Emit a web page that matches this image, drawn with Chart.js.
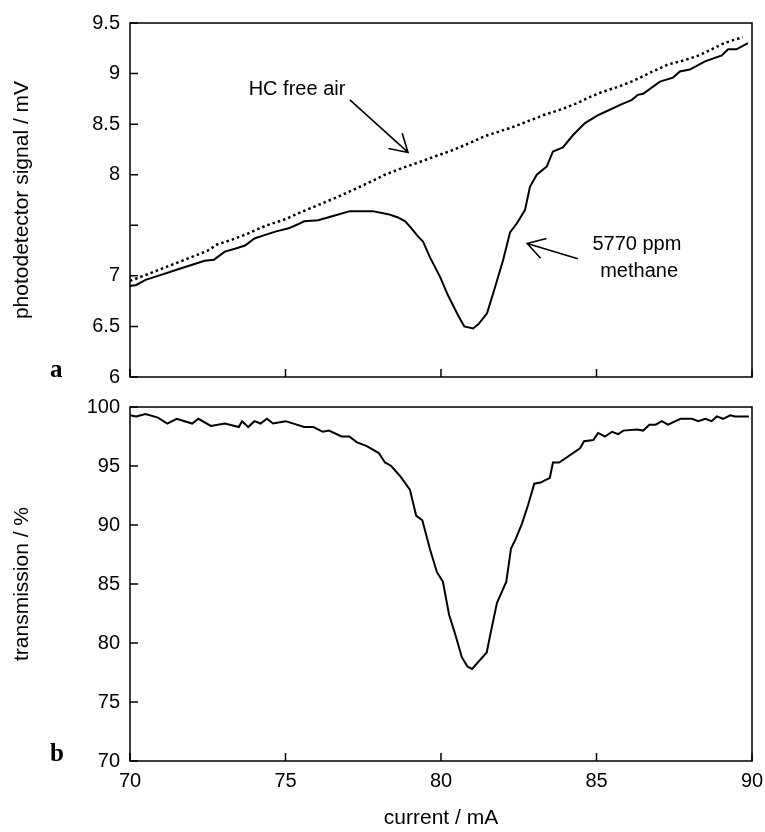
<!DOCTYPE html>
<html lang="en">
<head>
    <meta charset="UTF-8">
    <title>Methane absorption - photodetector signal and transmission</title>
    <script src="https://cdn.jsdelivr.net/npm/chart.js"></script>
    <style>
        body { margin: 0; background: #fff; }
        #wrap { position: relative; width: 765px; height: 832px; }
        canvas { position: absolute; left: 0; }
        #topChart { top: 0; }
        #bottomChart { top: 392px; }
    </style>
</head>
<body>
<div id="wrap">
    <canvas id="topChart" width="765" height="392"></canvas>
    <canvas id="bottomChart" width="765" height="440"></canvas>
</div>
<script>
    // Panel a: HC free air (dotted)
    var airCurrent = [70.0, 70.6, 71.1, 71.6, 72.1, 72.5, 72.8, 73.3, 73.8, 74.4, 75.0, 75.5, 76.05, 76.6, 77.1, 77.6,
        78.2, 78.7, 79.26, 79.8, 80.35, 80.9, 81.4, 81.9, 82.3, 82.8, 83.3, 83.9, 84.4, 84.8, 85.2, 85.7, 86.2, 86.8,
        87.3, 87.8, 88.3, 88.7, 89.1, 89.7];
    var airSignal = [6.95, 7.02, 7.08, 7.14, 7.20, 7.25, 7.31, 7.36, 7.42, 7.50, 7.56, 7.63, 7.70, 7.77, 7.84, 7.91,
        8.00, 8.06, 8.12, 8.18, 8.24, 8.31, 8.38, 8.43, 8.47, 8.53, 8.59, 8.65, 8.71, 8.77, 8.82, 8.87, 8.93, 9.02,
        9.09, 9.13, 9.18, 9.24, 9.30, 9.36];

    // Panel a: 5770 ppm methane (solid)
    var gasCurrent = [70.0, 70.2, 70.5, 71.0, 71.5, 72.0, 72.4, 72.7, 73.05, 73.4, 73.7, 74.0, 74.3, 74.7, 75.1, 75.4,
        75.6, 76.05, 76.5, 77.07, 77.8, 78.3, 78.6, 78.85, 79.05, 79.26, 79.42, 79.65, 79.97, 80.22, 80.45, 80.6,
        80.75, 81.03, 81.2, 81.48, 81.74, 82.0, 82.22, 82.44, 82.7, 82.86, 83.08, 83.4, 83.6, 83.92, 84.24, 84.63,
        85.05, 85.27, 85.76, 86.14, 86.33, 86.5, 87.04, 87.46, 87.68, 88.0, 88.49, 89.03, 89.23, 89.5, 89.87];
    var gasSignal = [6.90, 6.91, 6.96, 7.01, 7.06, 7.11, 7.15, 7.16, 7.24, 7.27, 7.30, 7.37, 7.40, 7.44, 7.47, 7.51,
        7.54, 7.55, 7.59, 7.64, 7.64, 7.61, 7.58, 7.54, 7.47, 7.39, 7.34, 7.18, 6.99, 6.81, 6.67, 6.58,
        6.50, 6.48, 6.52, 6.63, 6.89, 7.16, 7.43, 7.52, 7.65, 7.88, 8.00, 8.08, 8.23, 8.27, 8.39, 8.51,
        8.59, 8.62, 8.69, 8.74, 8.79, 8.80, 8.92, 8.96, 9.02, 9.04, 9.12, 9.18, 9.24, 9.24, 9.30];

    // Panel b: transmission
    var transCurrent = [70.0, 70.2, 70.5, 70.9, 71.2, 71.5, 72.0, 72.2, 72.6, 73.05, 73.5, 73.6, 73.8, 74.0, 74.2, 74.4,
        74.6, 75.0, 75.6, 75.9, 76.2, 76.4, 76.8, 77.05, 77.3, 77.6, 78.0, 78.2, 78.4, 78.7, 79.0, 79.2, 79.4,
        79.65, 79.87, 80.06, 80.26, 80.45, 80.67, 80.85, 81.0, 81.2, 81.47, 81.6, 81.8, 82.1, 82.25, 82.4, 82.6,
        82.8, 83.0, 83.2, 83.5, 83.6, 83.8, 84.47, 84.6, 84.9, 85.05, 85.27, 85.5, 85.7, 85.86, 86.3, 86.5, 86.7,
        86.9, 87.1, 87.3, 87.7, 88.07, 88.27, 88.5, 88.7, 88.87, 89.07, 89.3, 89.45, 89.9];
    var transValue = [99.3, 99.2, 99.4, 99.1, 98.6, 99.0, 98.6, 99.0, 98.4, 98.6, 98.3, 98.8, 98.3, 98.8, 98.6, 99.0,
        98.6, 98.8, 98.3, 98.3, 97.9, 98.0, 97.5, 97.5, 97.0, 96.7, 96.1, 95.3, 95.0, 94.1, 93.0, 90.8, 90.4,
        87.9, 86.0, 85.2, 82.4, 80.8, 78.8, 78.0, 77.8, 78.4, 79.2, 80.9, 83.4, 85.2, 88.0, 88.8, 90.1,
        91.7, 93.5, 93.6, 94.0, 95.3, 95.3, 96.5, 97.1, 97.2, 97.8, 97.5, 97.9, 97.7, 98.0, 98.1, 98.0, 98.5,
        98.5, 98.8, 98.5, 99.0, 99.0, 98.8, 99.0, 98.8, 99.2, 99.0, 99.3, 99.2, 99.2];

    var xTicks = [70, 75, 80, 85, 90];

    function pairs(xs, ys) {
        return xs.map(function (x, i) { return { x: x, y: ys[i] }; });
    }

    var FONT = '"Liberation Sans", Arial, sans-serif';

    // box around the plot, inward tick marks and the panel letter
    var frameTicks = {
        id: 'frameTicks',
        afterDatasetsDraw: function (chart, args, opts) {
            var ctx = chart.ctx, a = chart.chartArea;
            var xs = chart.scales.x, ys = chart.scales.y;
            ctx.save();
            ctx.strokeStyle = '#000';
            ctx.lineWidth = 1.5;
            ctx.strokeRect(a.left, a.top, a.right - a.left, a.bottom - a.top);
            ctx.beginPath();
            xs.ticks.forEach(function (t) {
                var px = xs.getPixelForValue(t.value);
                ctx.moveTo(px, a.bottom);
                ctx.lineTo(px, a.bottom - 8);
            });
            ys.ticks.forEach(function (t) {
                var py = ys.getPixelForValue(t.value);
                ctx.moveTo(a.left, py);
                ctx.lineTo(a.left + 8, py);
            });
            ctx.stroke();
            ctx.fillStyle = '#000';
            ctx.font = 'bold 25px "Liberation Serif", serif';
            ctx.textAlign = 'left';
            ctx.textBaseline = 'alphabetic';
            ctx.fillText(opts.letter, 50, a.bottom);
            ctx.restore();
        }
    };

    // labels with arrows, placed in data units
    var notes = {
        id: 'notes',
        afterDatasetsDraw: function (chart, args, opts) {
            var ctx = chart.ctx, xs = chart.scales.x, ys = chart.scales.y;
            ctx.save();
            ctx.fillStyle = '#000';
            ctx.strokeStyle = '#000';
            ctx.lineWidth = 1.6;
            ctx.font = '20px ' + FONT;
            ctx.textAlign = 'center';
            ctx.textBaseline = 'middle';
            (opts.texts || []).forEach(function (t) {
                ctx.fillText(t.text, xs.getPixelForValue(t.x), ys.getPixelForValue(t.y));
            });
            (opts.arrows || []).forEach(function (ar) {
                var x0 = xs.getPixelForValue(ar.from[0]), y0 = ys.getPixelForValue(ar.from[1]);
                var x1 = xs.getPixelForValue(ar.to[0]), y1 = ys.getPixelForValue(ar.to[1]);
                var ang = Math.atan2(y0 - y1, x0 - x1);
                ctx.beginPath();
                ctx.moveTo(x0, y0);
                ctx.lineTo(x1, y1);
                ctx.moveTo(x1 + 20 * Math.cos(ang - 0.54), y1 + 20 * Math.sin(ang - 0.54));
                ctx.lineTo(x1, y1);
                ctx.lineTo(x1 + 20 * Math.cos(ang + 0.54), y1 + 20 * Math.sin(ang + 0.54));
                ctx.stroke();
            });
            ctx.restore();
        }
    };

    var tickFont = { family: FONT, size: 20 };
    var titleFont = { family: FONT, size: 21 };

    var topChart = new Chart(document.getElementById('topChart'), {
        type: 'line',
        data: {
            datasets: [{
                label: 'HC free air',
                data: pairs(airCurrent, airSignal),
                borderColor: '#000',
                borderWidth: 2.5,
                borderDash: [2.5, 3],
                pointRadius: 0,
                fill: false
            }, {
                label: '5770 ppm methane',
                data: pairs(gasCurrent, gasSignal),
                borderColor: '#000',
                borderWidth: 2,
                pointRadius: 0,
                fill: false
            }]
        },
        options: {
            responsive: false,
            animation: false,
            layout: { padding: { left: 0, top: 23, right: 13, bottom: 15 } },
            plugins: {
                legend: { display: false },
                tooltip: { enabled: false },
                frameTicks: { letter: 'a' },
                notes: {
                    texts: [
                        { text: 'HC free air', x: 75.37, y: 8.84 },
                        { text: '5770 ppm', x: 86.3, y: 7.31 },
                        { text: 'methane', x: 86.37, y: 7.04 }
                    ],
                    arrows: [
                        { from: [77.07, 8.74], to: [78.94, 8.22] },
                        { from: [84.4, 7.17], to: [82.77, 7.32] }
                    ]
                }
            },
            scales: {
                x: {
                    type: 'linear',
                    min: 70,
                    max: 90,
                    afterBuildTicks: function (s) { s.ticks = xTicks.map(function (v) { return { value: v }; }); },
                    ticks: { display: false },
                    grid: { display: false },
                    border: { display: false },
                    afterFit: function (s) { s.height = 0; s.paddingLeft = 0; s.paddingRight = 0; }
                },
                y: {
                    min: 6,
                    max: 9.5,
                    ticks: {
                        stepSize: 0.5,
                        color: '#000',
                        font: tickFont,
                        padding: 2,
                        callback: function (v) { return v === 7.5 ? '' : v; }
                    },
                    grid: { display: false },
                    border: { display: false },
                    title: {
                        display: true,
                        text: 'photodetector signal / mV',
                        color: '#000',
                        font: titleFont,
                        padding: { top: 10, bottom: 0 }
                    },
                    afterFit: function (s) { s.width = 130; }
                }
            }
        },
        plugins: [frameTicks, notes]
    });

    var bottomChart = new Chart(document.getElementById('bottomChart'), {
        type: 'line',
        data: {
            datasets: [{
                label: 'transmission',
                data: pairs(transCurrent, transValue),
                borderColor: '#000',
                borderWidth: 2,
                pointRadius: 0,
                fill: false
            }]
        },
        options: {
            responsive: false,
            animation: false,
            layout: { padding: { left: 0, top: 15, right: 13, bottom: 0 } },
            plugins: {
                legend: { display: false },
                tooltip: { enabled: false },
                frameTicks: { letter: 'b' }
            },
            scales: {
                x: {
                    type: 'linear',
                    min: 70,
                    max: 90,
                    afterBuildTicks: function (s) { s.ticks = xTicks.map(function (v) { return { value: v }; }); },
                    ticks: { color: '#000', font: tickFont, padding: 0, maxRotation: 0 },
                    grid: { display: false },
                    border: { display: false },
                    title: {
                        display: true,
                        text: 'current / mA',
                        color: '#000',
                        font: titleFont,
                        padding: { top: 4, bottom: 1 }
                    },
                    afterFit: function (s) { s.height = 71; s.paddingLeft = 0; s.paddingRight = 0; }
                },
                y: {
                    min: 70,
                    max: 100,
                    ticks: { stepSize: 5, color: '#000', font: tickFont, padding: 2 },
                    grid: { display: false },
                    border: { display: false },
                    title: {
                        display: true,
                        text: 'transmission / %',
                        color: '#000',
                        font: titleFont,
                        padding: { top: 10, bottom: 0 }
                    },
                    afterFit: function (s) { s.width = 130; }
                }
            }
        },
        plugins: [frameTicks]
    });
</script>
</body>
</html>
